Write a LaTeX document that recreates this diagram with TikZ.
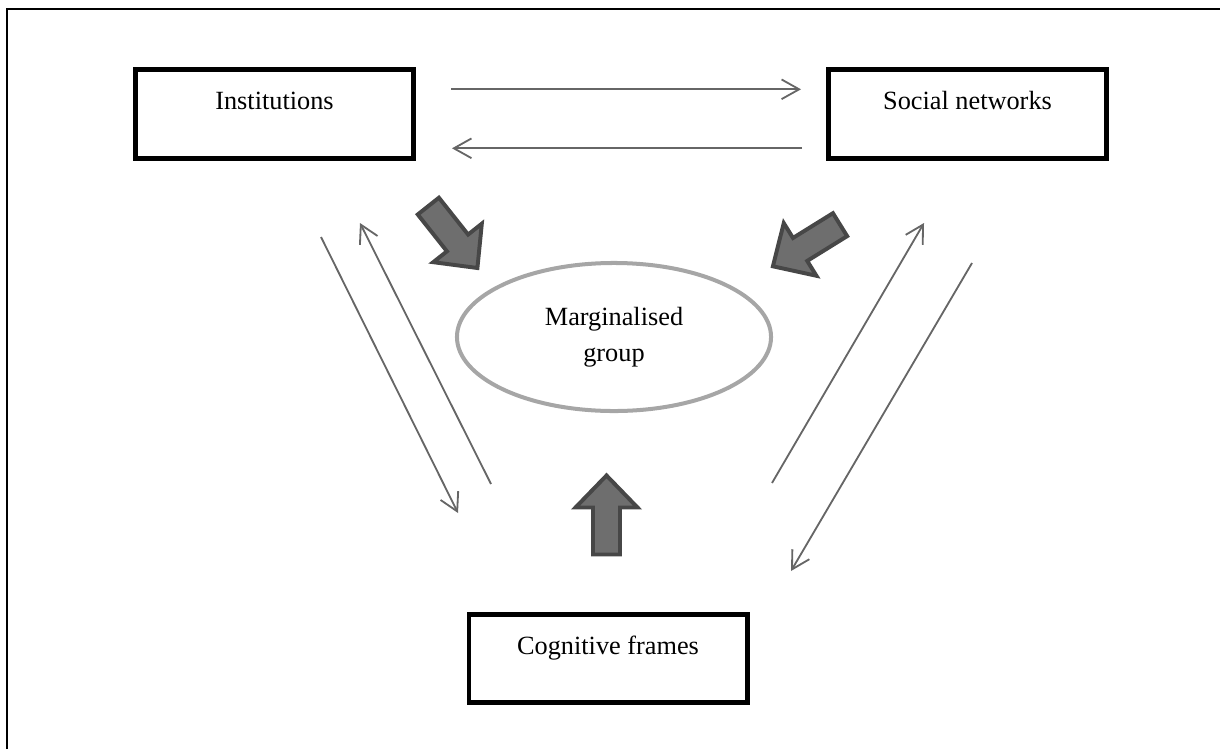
\documentclass[tikz,border=0pt]{standalone}
\usepackage{fontspec}
\setmainfont{Liberation Serif}
\usetikzlibrary{arrows.meta,shapes.geometric}

\definecolor{linegray}{HTML}{666666}
\definecolor{ringgray}{HTML}{A6A6A6}
\definecolor{fatfill}{HTML}{6E6E6E}
\definecolor{fatedge}{HTML}{474747}

\newcommand{\fatarrow}[2]{%
  \begin{scope}[shift={#1}, rotate=#2]
 \draw [fat] (0,0) -- (-32,-31) -- (-32,-13.5) -- (-79,-13.5) -- (-79,13.5) -- (-32,13.5) -- (-32,31) -- cycle;
\end{scope}}

\begin{document}
\begin{tikzpicture}[x=0.025cm, y=-0.025cm, font=\fontsize{18.7}{26}\selectfont,
  box/.style={draw, line width=3.5pt, minimum width=6.95cm, text height=1.01cm, text depth=1.21cm, inner sep=0},
  ring/.style={ellipse, draw=ringgray, line width=2.85pt, minimum width=7.85cm, minimum height=3.7cm, align=center, inner sep=0},
  link/.style={draw=linegray, line width=1.3pt, -{Straight Barb[length=12.5pt,width=14pt]}},
  fat/.style={draw=fatedge, fill=fatfill, line width=2.8pt, line join=miter}]
\useasboundingbox (0,0) rectangle (1220,749);
%\draw (0,0) rectangle (1220,749);
\draw[line width=1.5pt] (6.7,749) -- (6.7,9.3) -- (1220,9.3);

\node[box] (inst) at (274.5,114) {Institutions};
\node[box] (soc) at (967.5,114) {Social networks};
\node[box] (cog) at (608,658.5) {Cognitive frames};
\node[ring] (group) at (614,337) {Marginalised\\group};

\coordinate (is1) at (451,89.3);
\coordinate (si1) at (801,89.3);
\coordinate (si2) at (802,148.3);
\coordinate (is2) at (452,148.3);
\coordinate (ic1) at (321,237);
\coordinate (ic2) at (458,513);
\coordinate (ci1) at (491,484);
\coordinate (ci2) at (360,223);
\coordinate (cs1) at (772,483);
\coordinate (cs2) at (924,223);
\coordinate (sc1) at (972,263);
\coordinate (sc2) at (791,571);

\draw[link] (is1) -- (si1);
\draw[link] (si2) -- (is2);
\draw[link] (ic1) -- (ic2);
\draw[link] (ci1) -- (ci2);
\draw[link] (cs1) -- (cs2);
\draw[link] (sc1) -- (sc2);

\fatarrow{(477.4,268)}{-51.6}
\fatarrow{(772.9,266.3)}{211.8}
\fatarrow{(606.5,475.5)}{90}

\end{tikzpicture}
\end{document}
